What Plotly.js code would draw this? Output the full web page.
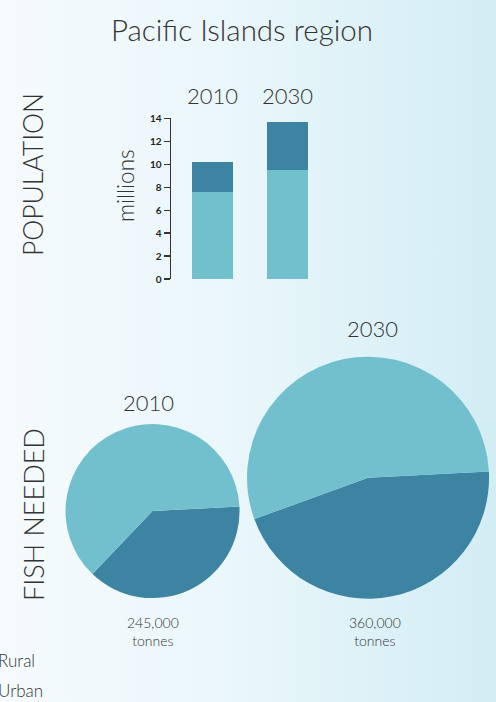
<!DOCTYPE html>
<html>
<head>
<meta charset="utf-8">
<script src="https://cdn.plot.ly/plotly-3.0.1.min.js"></script>
<style>
html,body{margin:0;padding:0;}
body{width:496px;height:702px;overflow:hidden;background:linear-gradient(to right,#f6fbfd 0%,#eaf7fb 45%,#d3edf5 100%);}
#chart{width:496px;height:702px;}
</style>
</head>
<body>
<div id="chart"></div>
<script>
// ---- data ----
var years = ['2010', '2030'];
var popRural = [7.6, 9.5];      // millions
var popUrban = [2.6, 4.2];      // millions
var fishUrban = [93000, 163000];  // tonnes
var fishRural = [152000, 197000]; // tonnes
var fishTotalLabels = ['245,000', '360,000'];
var seriesNames = ['Rural', 'Urban'];
var yTicks = [0, 2, 4, 6, 8, 10, 12, 14];

var LIGHT = '#72c0ce', DARK = '#3d84a3', TXT = '#333333';
var FONT = 'Lato, "Open Sans", sans-serif';

var traces = [
  {type: 'bar', name: seriesNames[0], x: years, y: popRural, marker: {color: LIGHT},
   legendgroup: 'r', hoverinfo: 'none'},
  {type: 'bar', name: seriesNames[1], x: years, y: popUrban, marker: {color: DARK},
   legendgroup: 'u', hoverinfo: 'none'}
];

var pieDomains = [
  {x: [0.132, 0.483], y: [0.148, 0.396]},
  {x: [0.498, 0.986], y: [0.147, 0.492]}
];
for (var i = 0; i < years.length; i++) {
  traces.push({
    type: 'pie', labels: [seriesNames[1], seriesNames[0]],
    values: [fishUrban[i], fishRural[i]],
    marker: {colors: [DARK, LIGHT], line: {width: 0}},
    sort: false, direction: 'clockwise', rotation: 87,
    textinfo: 'none', hoverinfo: 'none', showlegend: false,
    domain: pieDomains[i]
  });
}

function txt(text, x, y, size, angle) {
  return {text: text, textangle: angle || 0, xref: 'paper', yref: 'paper',
    x: x / 496, y: 1 - y / 702, xanchor: 'center', yanchor: 'middle', showarrow: false,
    align: 'center', font: {family: FONT, size: size, color: TXT, weight: 300}};
}
var annotations = [
  txt('POPULATION', 33, 175, 26.5, -90),
  txt('FISH NEEDED', 33, 515, 27, -90),
  txt('millions', 126, 186, 22.5, -90)
];
var yearLabelPos = [[148, 402], [372, 328]];
var tonCenters = [153, 375];
for (var j = 0; j < years.length; j++) {
  annotations.push(txt(years[j], yearLabelPos[j][0], yearLabelPos[j][1], 22));
  annotations.push(txt(fishTotalLabels[j] + '<br>tonnes', tonCenters[j], 631, 14));
}

var layout = {
  width: 496, height: 702,
  margin: {l: 0, r: 0, t: 0, b: 0, autoexpand: false},
  paper_bgcolor: 'rgba(0,0,0,0)', plot_bgcolor: 'rgba(0,0,0,0)',
  font: {family: FONT, color: TXT},
  title: {text: 'Pacific Islands region', x: 242 / 496, xanchor: 'center',
    y: 1 - 31 / 702, yanchor: 'middle', yref: 'container',
    font: {family: FONT, size: 29.5, color: TXT, weight: 300}},
  barmode: 'stack', bargap: 0.453,
  xaxis: {type: 'category', domain: [171 / 496, 330 / 496], range: [-0.553, 1.567],
    side: 'top', showline: false, showgrid: false, zeroline: false, ticks: '',
    ticklabelstandoff: 9, tickfont: {family: FONT, size: 22, color: TXT, weight: 300}},
  yaxis: {domain: [(702 - 279) / 702, (702 - 118.3) / 702], range: [0, 14],
    tickvals: yTicks, ticktext: yTicks.map(String),
    showline: true, linecolor: '#333', linewidth: 1.5, ticks: 'outside', ticklen: 6,
    tickwidth: 1.2, tickcolor: '#333', showgrid: false, zeroline: false,
    tickfont: {family: FONT, size: 10, color: '#222', weight: 700}},
  showlegend: true,
  legend: {x: -42 / 496, xanchor: 'left', y: 1 - 643 / 702, yanchor: 'top',
    traceorder: 'grouped', tracegroupgap: 5, bgcolor: 'rgba(0,0,0,0)',
    font: {family: FONT, size: 17, color: TXT, weight: 300}},
  annotations: annotations
};

Plotly.newPlot('chart', traces, layout, {displayModeBar: false, staticPlot: true});
</script>
</body>
</html>
